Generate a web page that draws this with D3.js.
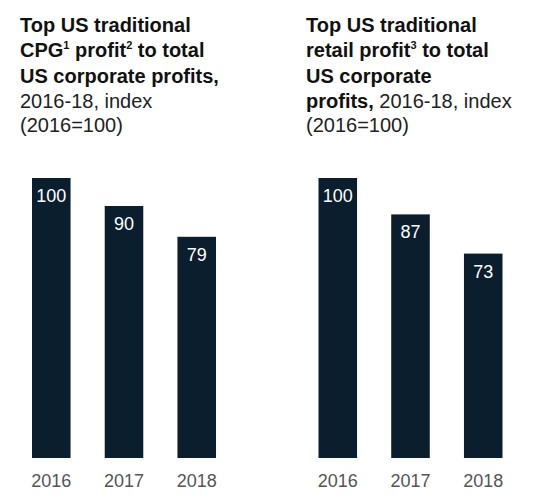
<!DOCTYPE html>
<html>
<head>
<meta charset="utf-8">
<script src="https://cdn.jsdelivr.net/npm/d3@7"></script>
<style>
  html, body { margin: 0; padding: 0; background: #fff; }
  svg { display: block; }
  text { font-family: "Liberation Sans", Arial, sans-serif; }
</style>
</head>
<body>
<svg id="chart" width="550" height="500"></svg>
<script>
// ---- Data ----
const years = ["2016", "2017", "2018"];
const cpgValues = [100, 90, 79];
const retailValues = [100, 87, 73];

// Title lines: arrays of [text, style] segments; style: b = bold, r = regular, sup = bold superscript
const cpgTitle = [
  [["Top US traditional", "b"]],
  [["CPG", "b"], ["1", "sup"], [" profit", "b"], ["2", "sup"], [" to total", "b"]],
  [["US corporate profits,", "b"]],
  [["2016-18, index", "r"]],
  [["(2016=100)", "r"]]
];
const retailTitle = [
  [["Top US traditional", "b"]],
  [["retail profit", "b"], ["3", "sup"], [" to total", "b"]],
  [["US corporate", "b"]],
  [["profits,", "b"], [" 2016-18, index", "r"]],
  [["(2016=100)", "r"]]
];

const svg = d3.select("#chart");
const barColor = "#0b1e2d";

const panels = [
  { values: cpgValues, title: cpgTitle, titleX: 20, x0: 32, x1: 216 },
  { values: retailValues, title: retailTitle, titleX: 306, x0: 318.5, x1: 502.5 }
];

const y = d3.scaleLinear().domain([0, 100]).range([458, 178]);
const lineY = [32, 57, 83, 108, 132];
const supShift = 8;

panels.forEach(p => {
  const g = svg.append("g");

  // Title
  p.title.forEach((segs, i) => {
    const t = g.append("text")
      .attr("x", p.titleX)
      .attr("y", lineY[i])
      .attr("font-size", 20);
    let shifted = false;
    segs.forEach(([txt, st]) => {
      const ts = t.append("tspan").text(txt);
      if (st === "sup") {
        ts.attr("font-size", 11)
          .attr("font-weight", "bold")
          .attr("fill", "#111")
          .attr("dy", -supShift);
        shifted = true;
      } else {
        ts.attr("font-weight", st === "b" ? "bold" : "normal")
          .attr("fill", st === "b" ? "#111" : "#222");
        if (shifted) { ts.attr("dy", supShift); shifted = false; }
      }
    });
  });

  const x = d3.scaleBand()
    .domain(years)
    .range([p.x0, p.x1])
    .paddingInner(0.47)
    .paddingOuter(0);

  // Bars
  g.selectAll("rect.bar")
    .data(p.values)
    .join("rect")
    .attr("class", "bar")
    .attr("x", (d, i) => x(years[i]))
    .attr("width", x.bandwidth())
    .attr("y", d => y(d))
    .attr("height", d => y(0) - y(d))
    .attr("fill", barColor);

  // Value labels
  g.selectAll("text.val")
    .data(p.values)
    .join("text")
    .attr("class", "val")
    .attr("x", (d, i) => x(years[i]) + x.bandwidth() / 2)
    .attr("y", d => y(d) + 24)
    .attr("text-anchor", "middle")
    .attr("font-size", 18)
    .attr("fill", "#fff")
    .text(d => d);

  // Axis (labels only)
  const axis = d3.axisBottom(x).tickSize(0).tickPadding(0);
  const ax = g.append("g")
    .attr("transform", "translate(0,474)")
    .call(axis);
  ax.select(".domain").remove();
  ax.selectAll("text")
    .attr("font-family", "Liberation Sans, Arial, sans-serif")
    .attr("font-size", 18)
    .attr("fill", "#555")
    .attr("dy", "0.71em");
});
</script>
</body>
</html>
